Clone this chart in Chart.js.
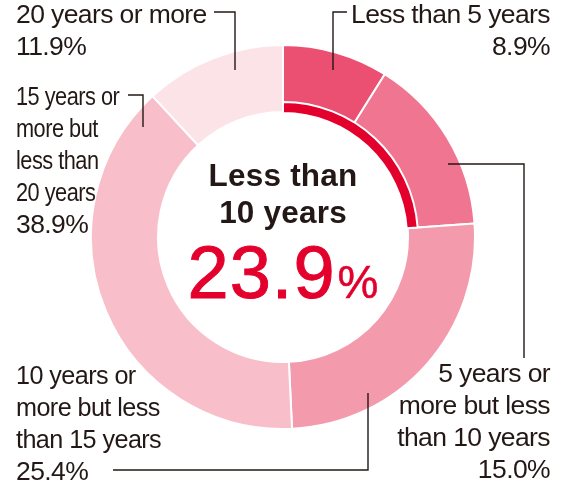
<!DOCTYPE html>
<html>
<head>
<meta charset="utf-8">
<script src="https://cdn.jsdelivr.net/npm/chart.js@4.4.1/dist/chart.umd.min.js"></script>
<style>
  html, body { margin: 0; padding: 0; background: #fff; }
  #wrap { position: relative; width: 568px; height: 482px; overflow: hidden; background: #fff; }
  .ring { position: absolute; left: 90px; top: 44px; width: 386px; height: 386px; }
  .lbl { position: absolute; font-family: "Liberation Sans", Arial, sans-serif; font-size: 26.5px; line-height: 32px;
         color: #231815; letter-spacing: -0.6px; white-space: nowrap; }
  .lbl div { height: 32px; }
  .lbl span { display: inline-block; transform-origin: left center; }
  .right { text-align: right; }
  .right span { transform-origin: right center; }
  #center { position: absolute; left: 133px; top: 0; width: 300px; height: 482px; text-align: center; font-family: "Liberation Sans", Arial, sans-serif; }
  #centerTitle { position: absolute; top: 157px; left: 0; width: 300px; font-weight: bold; font-size: 31.5px; line-height: 37px; color: #231815; letter-spacing: 0.2px; }
  #centerValue { position: absolute; top: 237px; left: 0px; width: 300px; font-size: 74px; line-height: 72px; color: #E3002D; white-space: nowrap; letter-spacing: 1px; -webkit-text-stroke: 1px #E3002D; }
  #centerValue span { font-size: 46px; letter-spacing: 0; margin-left: 2px; -webkit-text-stroke: 0.5px #E3002D; }
  svg { position: absolute; left: 0; top: 0; }
</style>
</head>
<body>
<div id="wrap">
  <div class="ring"><canvas id="ringChart"></canvas></div>
  <div class="ring"><canvas id="innerChart"></canvas></div>
  <svg width="568" height="482" id="leaders"></svg>
  <div id="center">
    <div id="centerTitle"></div>
    <div id="centerValue"></div>
  </div>
</div>
<script>
// ---- data ----
const categories = [
  'Less than 5 years',
  '5 years or more but less than 10 years',
  '10 years or more but less than 15 years',
  '15 years or more but less than 20 years',
  '20 years or more'
];
const shares = [8.9, 15.0, 25.4, 38.9, 11.9];
const categoryLines = [
  ['Less than 5 years'],
  ['5 years or', 'more but less', 'than 10 years'],
  ['10 years or', 'more but less', 'than 15 years'],
  ['15 years or', 'more but', 'less than', '20 years'],
  ['20 years or more']
];
const highlightTitle = ['Less than', '10 years'];
const highlightCount = 2; // first two categories = less than 10 years

// ---- styles ----
const sliceColors = ['#EB5072', '#F07590', '#F49AAD', '#F8BECA', '#FCE3E8'];
const highlightColor = '#E3002D';
const inkColor = '#231815';

const total = shares.reduce((a, b) => a + b, 0);
const highlightValue = shares.slice(0, highlightCount).reduce((a, b) => a + b, 0);

const common = {
  responsive: true,
  maintainAspectRatio: false,
  animation: false,
  events: [],
  layout: { padding: 0 },
  plugins: { legend: { display: false }, tooltip: { enabled: false } }
};

new Chart(document.getElementById('ringChart'), {
  type: 'doughnut',
  data: {
    labels: categories,
    datasets: [{
      data: shares,
      backgroundColor: sliceColors,
      borderColor: '#ffffff',
      borderWidth: 2
    }]
  },
  options: Object.assign({}, common, { cutout: '65.1%' })
});

new Chart(document.getElementById('innerChart'), {
  type: 'doughnut',
  data: {
    labels: ['Less than 10 years', 'Other'],
    datasets: [{
      data: [highlightValue, total - highlightValue],
      backgroundColor: [highlightColor, 'rgba(0,0,0,0)'],
      borderColor: ['#ffffff', 'rgba(0,0,0,0)'],
      borderWidth: [2, 0]
    }]
  },
  options: Object.assign({}, common, { radius: '70.3%', cutout: '91.85%' })
});

// ---- center text ----
document.getElementById('centerTitle').innerHTML = highlightTitle.join('<br>');
document.getElementById('centerValue').innerHTML = highlightValue.toFixed(1) + '<span>%</span>';

// ---- labels ----
const wrap = document.getElementById('wrap');
const labelPlacement = [
  { idx: 0, right: 18, top: -2, condense: 1 },
  { idx: 1, right: 18, top: 357, condense: 1 },
  { idx: 2, left: 16, top: 359, condense: 0.95 },
  { idx: 3, left: 16, top: 80, condense: 0.82 },
  { idx: 4, left: 16, top: -2, condense: 1 }
];
labelPlacement.forEach(p => {
  const d = document.createElement('div');
  d.className = 'lbl' + (p.right !== undefined ? ' right' : '');
  if (p.right !== undefined) d.style.right = p.right + 'px'; else d.style.left = p.left + 'px';
  d.style.top = p.top + 'px';
  categoryLines[p.idx].forEach(t => {
    const row = document.createElement('div');
    const s = document.createElement('span');
    s.textContent = t;
    if (p.condense !== 1) s.style.transform = 'scaleX(' + p.condense + ')';
    row.appendChild(s);
    d.appendChild(row);
  });
  const pr = document.createElement('div');
  const ps = document.createElement('span');
  ps.textContent = shares[p.idx].toFixed(1) + '%';
  pr.appendChild(ps);
  d.appendChild(pr);
  wrap.appendChild(d);
});

// ---- leader lines (annotation) ----
const leaders = [
  '347,12 333,12 333,70',
  '214,12 235,12 235,70',
  '128,95 143,95 143,127',
  '448,164 524,164 524,358',
  '113,470 368,470 368,393'
];
const svg = document.getElementById('leaders');
leaders.forEach(pts => {
  const pl = document.createElementNS('http://www.w3.org/2000/svg', 'polyline');
  pl.setAttribute('points', pts);
  pl.setAttribute('fill', 'none');
  pl.setAttribute('stroke', inkColor);
  pl.setAttribute('stroke-width', '1.4');
  svg.appendChild(pl);
});
</script>
</body>
</html>
